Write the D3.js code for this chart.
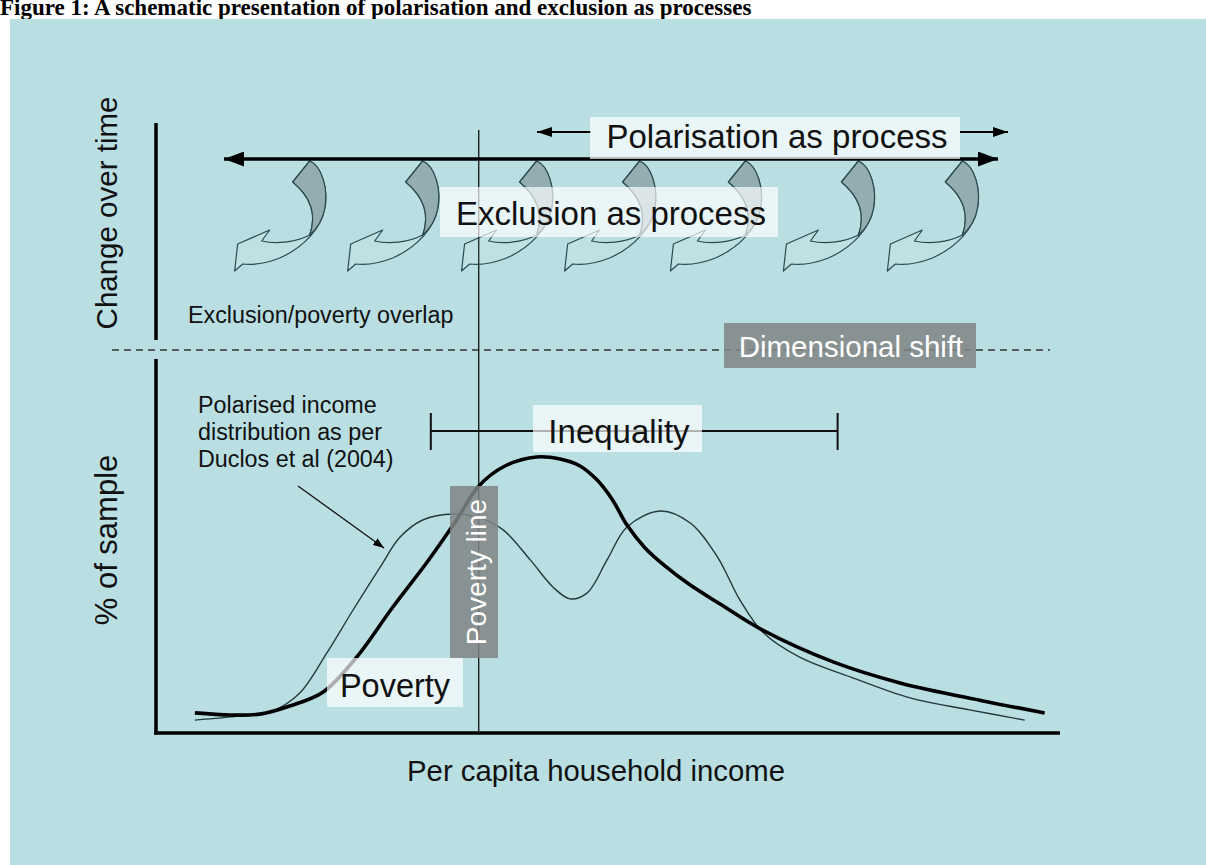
<!DOCTYPE html>
<html><head><meta charset="utf-8">
<script src="https://cdn.jsdelivr.net/npm/d3@7"></script>
<style>
body{margin:0;background:#fff;}
svg{display:block;}
text{font-family:"Liberation Sans",Arial,sans-serif;}
</style>
</head><body>
<svg id="c" width="1206" height="865"></svg>
<script>
// ---- data (schematic values) ----
const incomeX   = [4.3, 8.2, 11.5, 14.8, 18.5, 22.2, 26.2, 30.0, 33.1, 35.7, 38.6, 42.1, 44.7, 46.9, 48.8, 50.5, 52.1, 54.1, 56.3, 59.1, 62.4, 67.1, 74.9, 82.3, 91.5, 98.3];
const unimodalY = [6.7, 6.0, 6.3, 9.0, 13.7, 25.3, 42.0, 57.0, 70.3, 82.3, 89.0, 92.0, 91.3, 89.0, 84.3, 77.7, 69.3, 61.7, 55.7, 49.3, 43.0, 34.3, 23.7, 16.7, 10.7, 6.7];
const polarX    = [4.3, 9.3, 12.9, 15.9, 18.9, 21.8, 24.8, 27.0, 29.5, 32.9, 35.8, 38.4, 41.4, 43.9, 45.8, 47.7, 49.9, 52.1, 55.8, 59.1, 62.1, 64.6, 67.1, 71.2, 76.8, 83.4, 90.0, 96.1];
const polarY    = [4.3, 5.7, 7.3, 13.3, 26.7, 41.0, 55.3, 65.3, 71.0, 73.0, 71.7, 67.7, 57.7, 48.7, 44.7, 46.7, 57.7, 68.7, 74.0, 70.0, 58.7, 44.3, 33.7, 25.3, 18.7, 11.7, 7.7, 4.3];
const curlX      = [17.0, 29.5, 42.1, 53.5, 65.2, 77.7, 89.2];
const povertyLine = 35.7;
const inequality  = [30.4, 75.4];
const titleText = "Figure 1: A schematic presentation of polarisation and exclusion as processes";
const axisLabels = ["Change over time", "% of sample", "Per capita household income"];
const noteLines  = ["Polarised income", "distribution as per", "Duclos et al (2004)"];

// ---- drawing ----
const svg = d3.select("#c");
const bg = "#badfe2";
const x = d3.scaleLinear().domain([0, 100]).range([156, 1060]);
const y = d3.scaleLinear().domain([0, 100]).range([733, 433]);

const defs = svg.append("defs");
function marker(id, len, wid) {
  defs.append("marker").attr("id", id).attr("viewBox", `0 0 ${len} ${wid}`)
    .attr("refX", len).attr("refY", wid / 2).attr("markerUnits", "userSpaceOnUse")
    .attr("markerWidth", len).attr("markerHeight", wid).attr("orient", "auto-start-reverse")
    .append("path").attr("d", `M0,0L${len},${wid / 2}L0,${wid}Z`).attr("fill", "#000");
}
marker("bigHead", 20, 15);
marker("smallHead", 15, 10);
marker("noteHead", 11, 8);

// title (its top runs against the page edge, as in the source)
svg.append("text").attr("x", 0).attr("y", 15)
  .style("font-family", '"Liberation Serif","Times New Roman",serif')
  .attr("font-weight", "bold").attr("font-size", 23).text(titleText);

// panel
svg.append("rect").attr("x", 10).attr("y", 19).attr("width", 1196).attr("height", 846).attr("fill", bg);

// axes
svg.append("line").attr("x1", 156).attr("x2", 156).attr("y1", 123).attr("y2", 340)
  .attr("stroke", "#000").attr("stroke-width", 3.5);
svg.append("line").attr("x1", 156).attr("x2", 156).attr("y1", 359).attr("y2", y(0) + 1.5)
  .attr("stroke", "#000").attr("stroke-width", 3.5);
svg.append("line").attr("x1", 154.25).attr("x2", x(100)).attr("y1", y(0)).attr("y2", y(0))
  .attr("stroke", "#000").attr("stroke-width", 3.5);

// dimensional shift dashed line
svg.append("line").attr("x1", 112).attr("x2", 1050).attr("y1", 350).attr("y2", 350)
  .attr("stroke", "#333").attr("stroke-width", 1.4).attr("stroke-dasharray", "7,5");

// poverty line
svg.append("line").attr("x1", x(povertyLine)).attr("x2", x(povertyLine)).attr("y1", 130).attr("y2", y(0))
  .attr("stroke", "#111").attr("stroke-width", 1.3);

// curved exclusion arrows
const curlOutline = "M0,0 C12,5 19,28 15,48 C12,66 -5,86 -30,97 C-45,103 -58,104 -67,103 L-75,110 L-72,83 L-40,69 L-48,80 C-35,83 -15,82 0,74 C5,60 6,40 -17,21 Z";
const curlBack = "M0,0 C12,5 19,28 15,48 C13,58 8,67 0,74 C5,60 6,40 -17,21 Z";
const curls = svg.append("g").selectAll("g").data(curlX).join("g")
  .attr("transform", d => `translate(${x(d)},161)`);
curls.append("path").attr("d", curlOutline).attr("fill", "rgba(255,255,255,0.08)")
  .attr("stroke", "#2b4a4d").attr("stroke-width", 1.2).attr("stroke-linejoin", "round");
curls.append("path").attr("d", curlBack).attr("fill", "#93adb0")
  .attr("stroke", "#2b4a4d").attr("stroke-width", 1.2).attr("stroke-linejoin", "round");

// long double arrow
svg.append("line").attr("x1", 224).attr("x2", 998).attr("y1", 159).attr("y2", 159)
  .attr("stroke", "#000").attr("stroke-width", 3.5)
  .attr("marker-start", "url(#bigHead)").attr("marker-end", "url(#bigHead)");
// small polarisation arrows
svg.append("line").attr("x1", 591).attr("x2", 537).attr("y1", 132).attr("y2", 132)
  .attr("stroke", "#000").attr("stroke-width", 2).attr("marker-end", "url(#smallHead)");
svg.append("line").attr("x1", 960).attr("x2", 1008).attr("y1", 132).attr("y2", 132)
  .attr("stroke", "#000").attr("stroke-width", 2).attr("marker-end", "url(#smallHead)");

// inequality bracket
svg.append("line").attr("x1", x(inequality[0])).attr("x2", x(inequality[1])).attr("y1", 431).attr("y2", 431)
  .attr("stroke", "#111").attr("stroke-width", 2);
inequality.forEach(v => svg.append("line").attr("x1", x(v)).attr("x2", x(v)).attr("y1", 413).attr("y2", 450)
  .attr("stroke", "#111").attr("stroke-width", 2));

// distributions
const line = d3.line().curve(d3.curveCatmullRom.alpha(0.5)).x(d => x(d[0])).y(d => y(d[1]));
svg.append("path").attr("d", line(polarX.map((v, i) => [v, polarY[i]])))
  .attr("fill", "none").attr("stroke", "#24393b").attr("stroke-width", 1.4);
svg.append("path").attr("d", line(incomeX.map((v, i) => [v, unimodalY[i]])))
  .attr("fill", "none").attr("stroke", "#000").attr("stroke-width", 3.6);

// note arrow
svg.append("line").attr("x1", 298).attr("y1", 486).attr("x2", 384).attr("y2", 548)
  .attr("stroke", "#111").attr("stroke-width", 1.3).attr("marker-end", "url(#noteHead)");

// label boxes
function lightBox(x0, y0, w, h, label, tx, ty, fs) {
  svg.append("rect").attr("x", x0).attr("y", y0).attr("width", w).attr("height", h)
    .attr("fill", "#fff").attr("fill-opacity", 0.68);
  svg.append("text").attr("x", tx).attr("y", ty).attr("text-anchor", "middle")
    .attr("font-size", fs).attr("fill", "#111").text(label);
}
lightBox(590, 117, 370, 42, "Polarisation as process", 777, 148, 33);
lightBox(440, 187, 338, 50, "Exclusion as process", 611, 225, 33);
lightBox(533, 405, 169, 47, "Inequality", 619, 443, 33);
lightBox(327, 658, 136, 49, "Poverty", 395, 697, 32.5);

// dark boxes
svg.append("rect").attr("x", 724).attr("y", 323).attr("width", 252).attr("height", 45)
  .attr("fill", "#808585").attr("fill-opacity", 0.85);
svg.append("text").attr("x", 851).attr("y", 357).attr("text-anchor", "middle")
  .attr("font-size", 29.5).attr("fill", "#fff").text("Dimensional shift");
svg.append("rect").attr("x", 450).attr("y", 486).attr("width", 48).attr("height", 172)
  .attr("fill", "#808585").attr("fill-opacity", 0.85);
svg.append("text").attr("transform", "translate(486,572) rotate(-90)").attr("text-anchor", "middle")
  .attr("font-size", 28).attr("fill", "#fff").text("Poverty line");

// axis labels
svg.append("text").attr("transform", "translate(117,213) rotate(-90)").attr("text-anchor", "middle")
  .attr("font-size", 29.5).attr("fill", "#111").text(axisLabels[0]);
svg.append("text").attr("transform", "translate(117,540) rotate(-90)").attr("text-anchor", "middle")
  .attr("font-size", 31).attr("fill", "#111").text(axisLabels[1]);
svg.append("text").attr("x", 596).attr("y", 781).attr("text-anchor", "middle")
  .attr("font-size", 29.3).attr("fill", "#111").text(axisLabels[2]);

// small notes
svg.append("text").attr("x", 188).attr("y", 323).attr("font-size", 23.3).attr("fill", "#111")
  .text("Exclusion/poverty overlap");
svg.append("g").selectAll("text").data(noteLines).join("text")
  .attr("x", 198).attr("y", (d, i) => 413 + i * 27).attr("font-size", 23.3).attr("fill", "#111").text(d => d);
</script>
</body></html>
